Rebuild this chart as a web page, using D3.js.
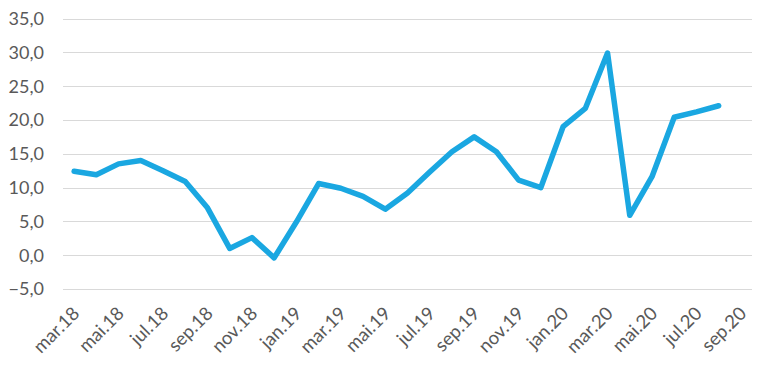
<!DOCTYPE html>
<html><head><meta charset="utf-8">
<script src="https://cdn.jsdelivr.net/npm/d3@7"></script>
<style>body{margin:0;background:#fff}svg{display:block}</style>
</head><body>
<svg id="c" width="771" height="371"></svg>
<script>
const months = ["mar.18","apr.18","mai.18","jun.18","jul.18","aug.18","sep.18","okt.18","nov.18","des.18",
"jan.19","feb.19","mar.19","apr.19","mai.19","jun.19","jul.19","aug.19","sep.19","okt.19","nov.19","des.19",
"jan.20","feb.20","mar.20","apr.20","mai.20","jun.20","jul.20","aug.20","sep.20"];
const values = [12.4,11.9,13.5,14.0,12.5,10.9,7.0,1.0,2.6,-0.4,
4.9,10.6,9.9,8.7,6.8,9.2,12.3,15.3,17.5,15.3,11.1,10.0,
19.0,21.7,29.9,5.9,11.6,20.4,21.2,22.1];
const tickLabels = ["mar.18","mai.18","jul.18","sep.18","nov.18","jan.19","mar.19","mai.19","jul.19","sep.19","nov.19","jan.20","mar.20","mai.20","jul.20","sep.20"];
const yTicks = [-5,0,5,10,15,20,25,30,35];

(function(){
const svg = d3.select("#c");
const mL = 63, mR = 752, mT = 18.5, mB = 289;
const x = d3.scaleBand().domain(months).range([mL, mR]);
const y = d3.scaleLinear().domain([-5, 35]).range([mB, mT]);
const fmt = v => d3.format(".1f")(v).replace(".", ",");
const font = "Lato, 'Open Sans', sans-serif";

svg.append("g").selectAll("line").data(yTicks).join("line")
  .attr("x1", mL).attr("x2", mR)
  .attr("y1", d => Math.round(y(d)) + 0.5).attr("y2", d => Math.round(y(d)) + 0.5)
  .attr("stroke", "#d9d9d9").attr("stroke-width", 1);

svg.append("g").selectAll("text").data(yTicks).join("text")
  .attr("x", 44).attr("y", d => y(d)).attr("dy", "0.36em")
  .attr("text-anchor", "end").attr("font-family", font).attr("font-size", 18)
  .attr("fill", "#595959").text(fmt);

svg.append("g").selectAll("text").data(tickLabels).join("text")
  .attr("transform", d => `translate(${x(d) + x.bandwidth()/2 + 2},${mB + 21}) rotate(-45)`)
  .attr("text-anchor", "end").attr("dy", "0.35em")
  .attr("font-family", font).attr("font-size", 18.5).attr("fill", "#595959").text(d => d);

const line = d3.line().x((d, i) => x(months[i]) + x.bandwidth()/2).y(d => y(d));
svg.append("path").datum(values).attr("d", line)
  .attr("fill", "none").attr("stroke", "#1aa7e1").attr("stroke-width", 5.5)
  .attr("stroke-linejoin", "round").attr("stroke-linecap", "round");
})();
</script>
</body></html>
